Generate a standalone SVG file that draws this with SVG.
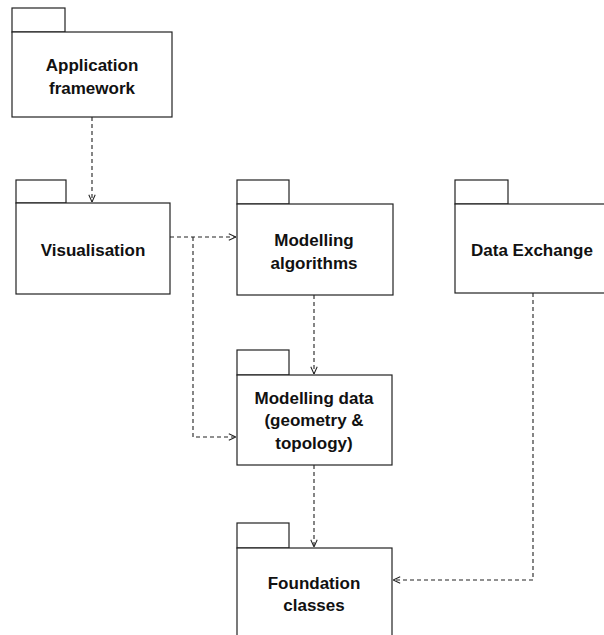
<svg xmlns="http://www.w3.org/2000/svg" width="604" height="635" viewBox="0 0 604 635">
<style>
.box{fill:#fff;stroke:#222;stroke-width:1.2}
.lbl{font-family:"Liberation Sans",Arial,sans-serif;font-weight:bold;font-size:17px;fill:#111;text-anchor:middle}
.con{fill:none;stroke:#222;stroke-width:1.1;stroke-dasharray:4 3}
</style>
<defs>
<marker id="arr" viewBox="0 0 10 10" refX="10" refY="5" markerWidth="8" markerHeight="8" orient="auto" markerUnits="userSpaceOnUse">
<path d="M1,1 L10,5 L1,9" fill="none" stroke="#222" stroke-width="1.3"/>
</marker>
</defs>
<rect width="604" height="635" fill="#fff"/>
<g id="connectors">
<path class="con" d="M92,117 V202" marker-end="url(#arr)"/>
<path class="con" d="M170,237 H236" marker-end="url(#arr)"/>
<path class="con" d="M193,237 V437 H236" marker-end="url(#arr)"/>
<path class="con" d="M314,295 V374" marker-end="url(#arr)"/>
<path class="con" d="M314,465 V547" marker-end="url(#arr)"/>
<path class="con" d="M533,293 V580 H393" marker-end="url(#arr)"/>
</g>
<g id="application-framework">
<rect class="box" x="12" y="8" width="53" height="24"/>
<rect class="box" x="12" y="32" width="160" height="85"/>
<text class="lbl" x="92" y="71">Application</text>
<text class="lbl" x="92" y="94">framework</text>
</g>
<g id="visualisation">
<rect class="box" x="16" y="180" width="50" height="23"/>
<rect class="box" x="16" y="203" width="154" height="91"/>
<text class="lbl" x="93" y="256">Visualisation</text>
</g>
<g id="modelling-algorithms">
<rect class="box" x="237" y="180" width="52" height="24"/>
<rect class="box" x="237" y="204" width="156" height="91"/>
<text class="lbl" x="314" y="246">Modelling</text>
<text class="lbl" x="314" y="269">algorithms</text>
</g>
<g id="data-exchange">
<rect class="box" x="455" y="180" width="53" height="24"/>
<rect class="box" x="455" y="204" width="160" height="89"/>
<text class="lbl" x="532" y="256">Data Exchange</text>
</g>
<g id="modelling-data">
<rect class="box" x="237" y="350" width="52" height="25"/>
<rect class="box" x="237" y="375" width="155" height="90"/>
<text class="lbl" x="314" y="404">Modelling data</text>
<text class="lbl" x="314" y="426">(geometry &amp;</text>
<text class="lbl" x="314" y="449">topology)</text>
</g>
<g id="foundation-classes">
<rect class="box" x="237" y="523" width="52" height="25"/>
<rect class="box" x="237" y="548" width="155" height="100"/>
<text class="lbl" x="314" y="589">Foundation</text>
<text class="lbl" x="314" y="611">classes</text>
</g>
</svg>
